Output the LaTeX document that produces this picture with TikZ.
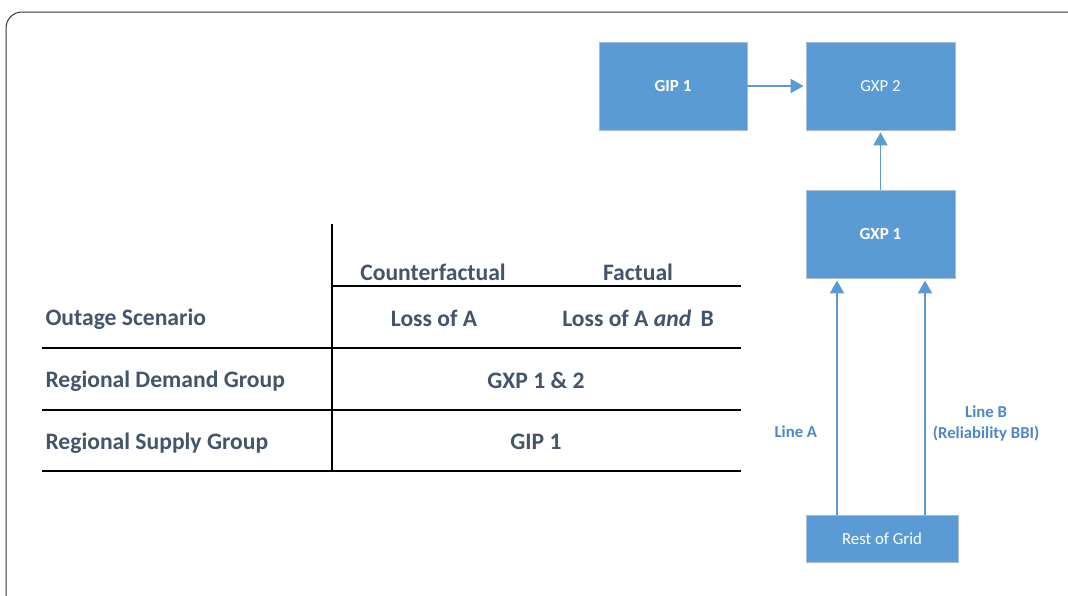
\documentclass[tikz,border=0pt]{standalone}
\usepackage{fontspec}
\setmainfont{Carlito}
\usetikzlibrary{arrows.meta,positioning}
\definecolor{boxblue}{HTML}{5B9BD5}
\definecolor{boxedge}{HTML}{A9BCD3}
\definecolor{slate}{HTML}{44546A}
\definecolor{lbl}{HTML}{4F86C6}
\tikzstyle{line} = [draw=boxblue, line width=1.8pt, -{Triangle[length=13pt,width=14pt]}, shorten >=2pt]
\tikzstyle{block} = [draw=boxedge, fill=boxblue, line width=0.8pt, rectangle, text=white, text centered, font=\fontsize{16.8}{19}\selectfont]
\tikzstyle{rule} = [draw=black, line width=1.4pt]
\tikzstyle{cell} = [text=slate, font=\bfseries\fontsize{23.6}{26}\selectfont]
\tikzstyle{linelabel} = [text=lbl, align=center, inner sep=0pt, font=\bfseries\fontsize{16.7}{21}\selectfont]

\begin{document}
\begin{tikzpicture}[x=1pt, y=-1pt]
        \useasboundingbox (0,0) rectangle (1068,595);
        \begin{scope}
            \clip (0,0) rectangle (1068,595);
            \draw[line width=1pt, rounded corners=16pt, draw=black!80] (6,12) rectangle (1090,620);
        \end{scope}
        % boxes
        \node[block, minimum width=148pt, minimum height=88pt, font=\bfseries\fontsize{17}{19}\selectfont] (gip) at (673,86) {GIP 1};
        \node[block, minimum width=149pt, minimum height=88pt] (gxp2) at (880.5,86) {GXP 2};
        \node[block, minimum width=149pt, minimum height=88pt, font=\bfseries\fontsize{17}{19}\selectfont] (gxp1) at (880.5,234) {GXP 1};
        \node[block, minimum width=152pt, minimum height=47pt] (rest) at (882,538.5) {Rest of Grid};
        \path[line] (gip) -- (gxp2);
        \path[line] (gxp1) -- (gxp2);
        \coordinate (la) at (837,0);
        \coordinate (lb) at (925,0);
        \path[line] (rest.north -| la) -- node[linelabel, pos=0.35, left=19pt] {Line A} (gxp1.south -| la);
        \path[line] (rest.north -| lb) -- node[linelabel, pos=0.39, right=7pt, yshift=-1pt] {Line B\\(Reliability BBI)} (gxp1.south -| lb);
        % table
        \draw[rule] (332,224) -- (332,471);
        \draw[rule] (332,286) -- (741,286);
        \draw[rule] (42,348) -- (741,348);
        \draw[rule] (42,410) -- (741,410);
        \draw[rule] (42,471) -- (741,471);
        \node[cell] (cf) at (433,272) {Counterfactual};
        \node[cell] (fa) at (638,272) {Factual};
        \node[cell, anchor=west] (os) at (42,319) {Outage Scenario};
        \node[cell] (la1) at (434,318) {Loss of A};
        \node[cell] (lab) at (638,318) {Loss of A \textit{and}\, B};
        \node[cell, anchor=west] (rdg) at (42,381) {Regional Demand Group};
        \node[cell] (g12) at (536,380) {GXP 1 \& 2};
        \node[cell, anchor=west] (rsg) at (42,443) {Regional Supply Group};
        \node[cell] (g1) at (536,442) {GIP 1};
\end{tikzpicture}
\end{document}
